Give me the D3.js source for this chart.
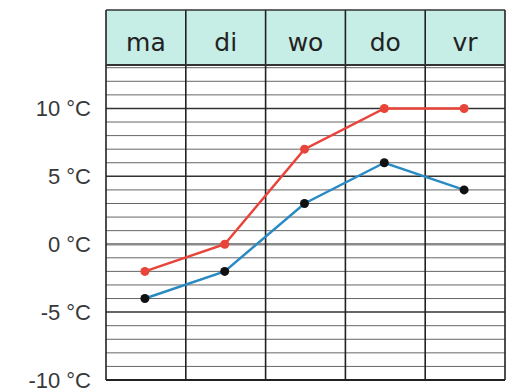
<!DOCTYPE html>
<html>
<head>
<meta charset="utf-8">
<script src="https://cdn.jsdelivr.net/npm/d3@7"></script>
<style>
  body { margin: 0; background: #fff; }
  svg { display: block; }
</style>
</head>
<body>
<script>
// days of the week (header row)
var days = ["ma", "di", "wo", "do", "vr"];
// temperatures
var maxTemp = [-2, 0, 7, 10, 10];
var minTemp = [-4, -2, 3, 6, 4];
// y axis tick labels
var yTicks = [10, 5, 0, -5, -10];

var width = 509,
  height = 392;

var svg = d3.select("body")
  .append("svg")
  .attr("width", width)
  .attr("height", height);

var left = 106, right = 505,
  headTop = 10, headBottom = 65,
  bottom = 380;

var x = d3.scaleBand()
  .domain(days)
  .range([left, right]);

var y = d3.scaleLinear()
  .domain([-10, 13.2])
  .range([bottom, headBottom]);

//header cells
svg.selectAll(".head")
  .data(days)
  .enter()
  .append("rect")
  .attr("class", "head")
  .attr("x", function(d) { return x(d); })
  .attr("y", headTop)
  .attr("width", x.bandwidth())
  .attr("height", headBottom - headTop)
  .attr("fill", "#c6ede6");

svg.selectAll(".headText")
  .data(days)
  .enter()
  .append("text")
  .attr("x", function(d) { return x(d) + x.bandwidth() / 2; })
  .attr("y", 51)
  .attr("text-anchor", "middle")
  .style("font-family", "'DejaVu Sans', sans-serif")
  .style("font-size", "25px")
  .style("fill", "#222")
  .text(function(d) { return d; });

//horizontal grid, one line per degree
var degrees = d3.range(-9, 14);
svg.selectAll(".hline")
  .data(degrees)
  .enter()
  .append("line")
  .attr("x1", left)
  .attr("x2", right)
  .attr("y1", function(d) { return y(d); })
  .attr("y2", function(d) { return y(d); })
  .attr("stroke", function(d) {
    if (d === 0) return "#8a8a8a";
    return d % 5 === 0 ? "#333" : "#666";
  })
  .attr("stroke-width", function(d) {
    if (d === 0) return 2.5;
    return d % 5 === 0 ? 1.5 : 1;
  });

//column lines
var cols = days.map(function(d) { return x(d); }).concat([right]);
svg.selectAll(".vline")
  .data(cols)
  .enter()
  .append("line")
  .attr("x1", function(d) { return d; })
  .attr("x2", function(d) { return d; })
  .attr("y1", headTop)
  .attr("y2", bottom)
  .attr("stroke", "#222")
  .attr("stroke-width", 1.6);

//header border + bottom border
svg.append("line")
  .attr("x1", left).attr("x2", right)
  .attr("y1", headTop).attr("y2", headTop)
  .attr("stroke", "#333").attr("stroke-width", 1.6);
svg.append("line")
  .attr("x1", left).attr("x2", right)
  .attr("y1", headBottom).attr("y2", headBottom)
  .attr("stroke", "#333").attr("stroke-width", 1.8);
svg.append("line")
  .attr("x1", left).attr("x2", right)
  .attr("y1", bottom).attr("y2", bottom)
  .attr("stroke", "#222").attr("stroke-width", 1.8);

//y labels
svg.selectAll(".ylab")
  .data(yTicks)
  .enter()
  .append("text")
  .attr("x", 91)
  .attr("y", function(d) { return y(d) + 8; })
  .attr("text-anchor", "end")
  .style("font-family", "'Liberation Sans', Arial, sans-serif")
  .style("font-size", "22px")
  .style("fill", "#383838")
  .text(function(d) { return d + " °C"; });

//lines
var cx = function(d, i) { return x(days[i]) + x.bandwidth() / 2 - 1; };
var line = d3.line()
  .x(cx)
  .y(function(d) { return y(d); });

function drawSeries(values, color, dot, cls) {
  svg.append("path")
    .datum(values)
    .attr("d", line)
    .attr("fill", "none")
    .attr("stroke", color)
    .attr("stroke-width", 2.5);

  svg.selectAll("." + cls)
    .data(values)
    .enter()
    .append("circle")
    .attr("class", cls)
    .attr("cx", cx)
    .attr("cy", function(d) { return y(d); })
    .attr("r", 4.5)
    .attr("fill", dot);
}

drawSeries(maxTemp, "#e8443a", "#e8443a", "dotMax");
drawSeries(minTemp, "#2a8ac4", "#111111", "dotMin");
</script>
</body>
</html>
